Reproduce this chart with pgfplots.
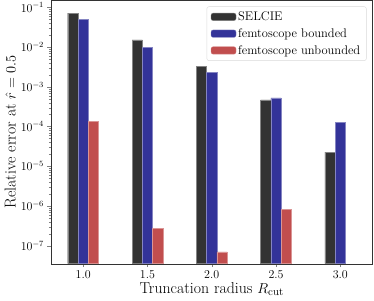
\documentclass[border=0pt]{standalone}
\usepackage{pgfplots}
\pgfplotsset{compat=1.18}
\definecolor{cblack}{HTML}{333333}
\definecolor{cblue}{HTML}{333399}
\definecolor{cred}{HTML}{C14E4E}
\begin{document}
\begin{tikzpicture}
\begin{axis}[
  name=ax,
  scale only axis,
  width=321.5pt, height=263.2pt,
  ymode=log, log origin=infty,
  xmin=0.75, xmax=3.25,
  ymin=3.5e-8, ymax=0.15,
  xtick={1,1.5,2,2.5,3},
  xticklabels={1.0,1.5,2.0,2.5,3.0},
  ytick={1e-7,1e-6,1e-5,1e-4,1e-3,1e-2,1e-1},
  tick align=outside, tick pos=left,
  tick label style={font=\fontsize{12}{14}\selectfont},
  label style={font=\fontsize{15.8}{18}\selectfont},
  xlabel={Truncation radius $R_{\mathrm{cut}}$},
  ylabel={Relative error at $\hat{r}=0.5$},
  ylabel style={yshift=-2pt},
  xlabel style={yshift=3pt},
  axis line style={black!80},
  major tick length=3.5pt, minor tick length=2pt,
  legend cell align=left,
  legend style={at={(1,1)}, xshift=-6pt, yshift=-6pt, anchor=north east, draw=black!15, rounded corners=2pt,
    font=\fontsize{12.5}{14}\selectfont, row sep=2.5pt, inner xsep=4pt, inner ysep=3pt},
  legend image code/.code={\fill[#1] (0pt,-3.7pt) rectangle (25pt,3.7pt);},
]
\addplot[ybar, bar width=0.08, bar shift=-0.08, fill=cblack, draw=cblack!60!white, line width=0.3pt]
  coordinates {(1,0.072) (1.5,0.0153) (2,3.3e-3) (2.5,4.7e-4) (3,2.26e-5)};
\addlegendentry{SELCIE}
\addplot[ybar, bar width=0.08, bar shift=0, fill=cblue, draw=cblue!60!white, line width=0.3pt]
  coordinates {(1,0.050) (1.5,0.0100) (2,2.3e-3) (2.5,5.3e-4) (3,1.28e-4)};
\addlegendentry{femtoscope bounded}
\addplot[ybar, bar width=0.08, bar shift=0.08, fill=cred, draw=cred!60!white, line width=0.3pt]
  coordinates {(1,1.36e-4) (1.5,2.7e-7) (2,7e-8) (2.5,8.1e-7)};
\addlegendentry{femtoscope unbounded}
\end{axis}
\pgfresetboundingbox
\path ([shift={(-51pt,-37.3pt)}]ax.south west) rectangle ([shift={(1.5pt,0.5pt)}]ax.north east);
\end{tikzpicture}
\end{document}
